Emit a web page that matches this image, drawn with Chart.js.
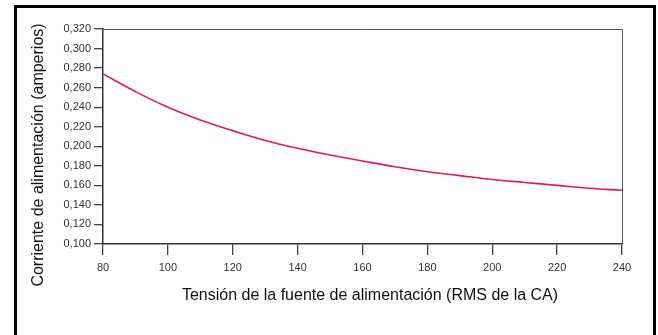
<!DOCTYPE html>
<html>
<head>
<meta charset="utf-8">
<script src="https://cdn.jsdelivr.net/npm/chart.js@4"></script>
<style>
  html, body { margin: 0; padding: 0; background: #fff; }
  #wrap { position: relative; width: 658px; height: 335px; overflow: hidden; }
  #frame {
    position: absolute; left: 14px; top: 5px; width: 636px; height: 400px;
    border: 3px solid #000; pointer-events: none;
  }
  canvas { position: absolute; left: 0; top: 0; }
</style>
</head>
<body>
<div id="wrap">
  <canvas id="chart" width="658" height="335"></canvas>
  <div id="frame"></div>
</div>
<script>
/* ========= Data ========= */
const voltages = [80, 90, 100, 110, 120, 130, 140, 150, 160, 170, 180, 190, 200, 210, 220, 230, 240];
const currents = [0.274, 0.256, 0.240, 0.227, 0.216, 0.206, 0.198, 0.191, 0.185, 0.179, 0.174, 0.170, 0.166, 0.163, 0.160, 0.157, 0.155];
const xTicks   = [80, 100, 120, 140, 160, 180, 200, 220, 240];
const yTicks   = [0.100, 0.120, 0.140, 0.160, 0.180, 0.200, 0.220, 0.240, 0.260, 0.280, 0.300, 0.320];
const xTitle   = 'Tensión de la fuente de alimentación (RMS de la CA)';
const yTitle   = 'Corriente de alimentación (amperios)';

const FONT = 'Liberation Sans, Arial, sans-serif';

// thin box on top/right of the plot + both axis titles
const extras = {
  id: 'extras',
  afterDraw(chart) {
    const { ctx, chartArea: a } = chart;
    ctx.save();
    ctx.strokeStyle = '#555';
    ctx.lineWidth = 1;
    ctx.beginPath();
    ctx.moveTo(a.left, a.top + 0.5);
    ctx.lineTo(a.right + 0.5, a.top + 0.5);
    ctx.lineTo(a.right + 0.5, a.bottom);
    ctx.stroke();

    ctx.fillStyle = '#111';
    ctx.font = '16px ' + FONT;
    ctx.textAlign = 'center';
    ctx.textBaseline = 'middle';
    ctx.fillText(xTitle, 370, 296);

    ctx.translate(39, 155);
    ctx.rotate(-Math.PI / 2);
    ctx.fillText(yTitle, 0, 0);
    ctx.restore();
  }
};

new Chart(document.getElementById('chart'), {
  type: 'line',
  data: {
    datasets: [{
      data: voltages.map((v, i) => ({ x: v, y: currents[i] })),
      borderColor: '#e3195a',
      borderWidth: 1.6,
      pointRadius: 0,
      tension: 0.4,
      fill: false
    }]
  },
  options: {
    responsive: false,
    animation: false,
    events: [],
    layout: { padding: { top: 29, right: 36, left: 0, bottom: 0 } },
    plugins: { legend: { display: false }, tooltip: { enabled: false } },
    scales: {
      x: {
        type: 'linear',
        min: 80, max: 240,
        afterBuildTicks: s => { s.ticks = xTicks.map(v => ({ value: v })); },
        afterFit: s => { s.height = 91; },
        grid: { drawOnChartArea: false, tickLength: 11, color: '#444', lineWidth: 1.3 },
        border: { display: true, color: '#333', width: 1.5 },
        ticks: { color: '#333', font: { family: FONT, size: 11 }, padding: 6, maxRotation: 0 }
      },
      y: {
        min: 0.1, max: 0.32,
        afterBuildTicks: s => { s.ticks = yTicks.map(v => ({ value: v })); },
        afterFit: s => { s.width = 103; },
        grid: { drawOnChartArea: false, tickLength: 9, color: '#444', lineWidth: 1.3 },
        border: { display: true, color: '#333', width: 1.5 },
        ticks: {
          color: '#333', font: { family: FONT, size: 11 }, padding: 3,
          callback: v => v.toFixed(3).replace('.', ',')
        }
      }
    }
  },
  plugins: [extras]
});
</script>
</body>
</html>
